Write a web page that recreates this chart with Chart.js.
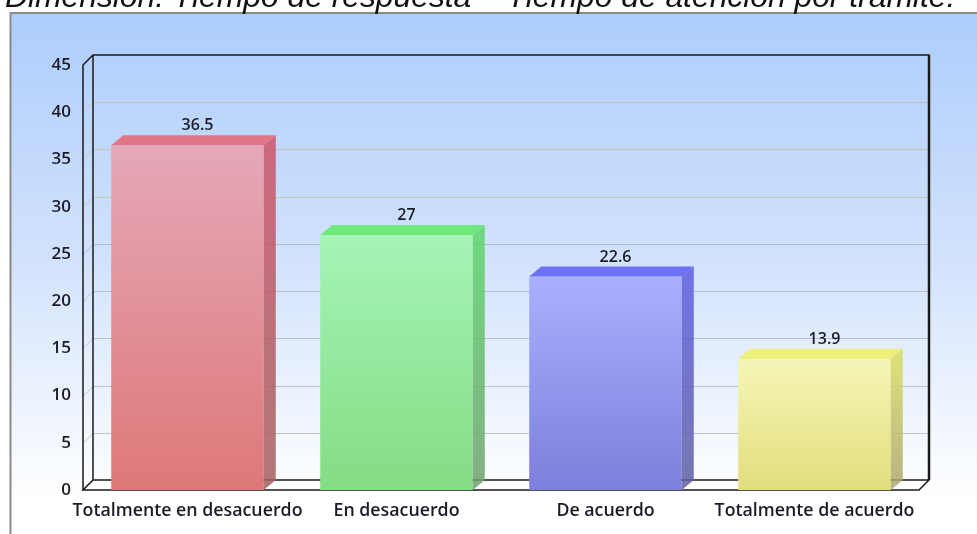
<!DOCTYPE html>
<html>
<head>
<meta charset="utf-8">
<script src="https://cdn.jsdelivr.net/npm/chart.js@4"></script>
<style>
  html, body { margin: 0; padding: 0; background: #fff; }
  canvas { display: block; }
</style>
</head>
<body>
<canvas id="chartcnv" width="977" height="534"></canvas>
<script>
// data
const titleText = 'Dimensión: Tiempo de respuesta – Tiempo de atención por trámite.';
const categories = ['Totalmente en desacuerdo', 'En desacuerdo', 'De acuerdo', 'Totalmente de acuerdo'];
const percentValues = [36.5, 27, 22.6, 13.9];
const yTicks = [0, 5, 10, 15, 20, 25, 30, 35, 40, 45];

// colours per bar: front (top/bottom), top face, side face
const frontTop = ['#e5a8b8', '#a6f4b6', '#aab0fd', '#f5f6b6'];
const frontBottom = ['#de7878', '#84dc84', '#7d7fdc', '#e2de7e'];
const topFace = ['#e07686', '#6fe87d', '#6c72f2', '#eeee7a'];
const sideTop = ['rgba(205,85,105,0.85)', 'rgba(95,215,105,0.85)', 'rgba(95,95,225,0.85)', 'rgba(220,220,100,0.85)'];
const sideBottom = ['rgba(165,95,95,0.85)', 'rgba(110,160,110,0.85)', 'rgba(95,95,160,0.85)', 'rgba(170,165,110,0.85)'];

const WALL = 10;      // depth of the walls
const BAR_DX = 12, BAR_DY = 10;
const labelFont = '"Open Sans", "DejaVu Sans", sans-serif';

const backdrop = {
  id: 'backdrop',
  beforeDraw(chart) {
    const ctx = chart.ctx;
    const w = chart.width, h = chart.height;
    ctx.save();
    ctx.fillStyle = '#ffffff';
    ctx.fillRect(0, 0, w, h);
    // panel with gradient
    const g = ctx.createLinearGradient(0, 14, 0, 500);
    g.addColorStop(0, '#adcdfc');
    g.addColorStop(0.5, '#d2e2fc');
    g.addColorStop(1, '#ffffff');
    ctx.fillStyle = g;
    ctx.fillRect(10, 14, w - 10, h - 14);
    ctx.strokeStyle = '#8a8a8a';
    ctx.lineWidth = 2;
    ctx.beginPath();
    ctx.moveTo(10.5, h);
    ctx.lineTo(10.5, 13);
    ctx.lineTo(w, 13);
    ctx.stroke();
    // title, cut by the top edge
    let size = 28;
    ctx.font = 'italic ' + size + 'px "Liberation Sans", Arial, sans-serif';
    const tw = ctx.measureText(titleText).width;
    size = size * 950 / tw;
    ctx.font = 'italic ' + size.toFixed(1) + 'px "Liberation Sans", Arial, sans-serif';
    ctx.fillStyle = '#111';
    ctx.textBaseline = 'alphabetic';
    ctx.textAlign = 'left';
    ctx.fillText(titleText, 5, 7);
    ctx.restore();
  },
  beforeDatasetsDraw(chart) {
    const ctx = chart.ctx;
    const a = chart.chartArea;
    const ys = chart.scales.y;
    ctx.save();
    // floor
    ctx.fillStyle = '#ffffff';
    ctx.beginPath();
    ctx.moveTo(a.left, a.bottom);
    ctx.lineTo(a.right, a.bottom);
    ctx.lineTo(a.right + WALL, a.bottom - WALL);
    ctx.lineTo(a.left + WALL, a.bottom - WALL);
    ctx.closePath();
    ctx.fill();
    // gridlines on back and side wall
    ctx.lineWidth = 1;
    yTicks.forEach(v => {
      if (v === 0 || v === 45) return;
      const y = Math.round(ys.getPixelForValue(v)) + 0.5;
      ctx.strokeStyle = v > 25 ? 'rgba(200,180,150,0.6)' : 'rgba(150,150,150,0.5)';
      ctx.beginPath();
      ctx.moveTo(a.left, y);
      ctx.lineTo(a.left + WALL, y - WALL);
      ctx.lineTo(a.right + WALL, y - WALL);
      ctx.stroke();
    });
    // frame
    ctx.strokeStyle = '#1a1a1a';
    ctx.lineWidth = 1.5;
    ctx.beginPath();
    ctx.moveTo(a.left, a.bottom);
    ctx.lineTo(a.left, a.top);
    ctx.lineTo(a.left + WALL, a.top - WALL);
    ctx.lineTo(a.right + WALL, a.top - WALL);
    ctx.lineTo(a.right + WALL, a.bottom - WALL);
    ctx.lineTo(a.right, a.bottom);
    ctx.lineTo(a.left, a.bottom);
    ctx.lineTo(a.left + WALL, a.bottom - WALL);
    ctx.lineTo(a.right + WALL, a.bottom - WALL);
    ctx.moveTo(a.left + WALL, a.bottom - WALL);
    ctx.lineTo(a.left + WALL, a.top - WALL);
    ctx.stroke();
    // heavier back-right edge
    ctx.lineWidth = 2.5;
    ctx.beginPath();
    ctx.moveTo(a.right + WALL, a.top - WALL);
    ctx.lineTo(a.right + WALL, a.bottom - WALL);
    ctx.stroke();
    ctx.restore();
  },
  afterDatasetsDraw(chart) {
    const ctx = chart.ctx;
    const meta = chart.getDatasetMeta(0);
    ctx.save();
    meta.data.forEach((bar, i) => {
      const p = bar.getProps(['x', 'y', 'base', 'width'], true);
      const l = p.x - p.width / 2, r = p.x + p.width / 2;
      const t = p.y, b = p.base;
      // side face
      const sg = ctx.createLinearGradient(0, t, 0, b);
      sg.addColorStop(0, sideTop[i]);
      sg.addColorStop(1, sideBottom[i]);
      ctx.fillStyle = sg;
      ctx.beginPath();
      ctx.moveTo(r, t);
      ctx.lineTo(r + BAR_DX, t - BAR_DY);
      ctx.lineTo(r + BAR_DX, b - BAR_DY);
      ctx.lineTo(r, b);
      ctx.closePath();
      ctx.fill();
      // top face
      ctx.fillStyle = topFace[i];
      ctx.beginPath();
      ctx.moveTo(l, t);
      ctx.lineTo(l + BAR_DX, t - BAR_DY);
      ctx.lineTo(r + BAR_DX, t - BAR_DY);
      ctx.lineTo(r, t);
      ctx.closePath();
      ctx.fill();
      // value label
      ctx.fillStyle = '#1c1c28';
      ctx.font = '600 16px ' + labelFont;
      ctx.textAlign = 'center';
      ctx.textBaseline = 'alphabetic';
      ctx.fillText(String(percentValues[i]), p.x + 10, t - BAR_DY - 5);
    });
    ctx.restore();
  }
};

function frontGradient(context) {
  const chart = context.chart;
  const i = context.dataIndex;
  const ys = chart.scales.y;
  if (!ys || !chart.chartArea) return frontBottom[i];
  const top = ys.getPixelForValue(percentValues[i]);
  const g = chart.ctx.createLinearGradient(0, top, 0, ys.getPixelForValue(0));
  g.addColorStop(0, frontTop[i]);
  g.addColorStop(1, frontBottom[i]);
  return g;
}

const ctx = document.getElementById('chartcnv').getContext('2d');
const chart = new Chart(ctx, {
  type: 'bar',
  data: {
    labels: categories,
    datasets: [{
      data: percentValues,
      backgroundColor: frontGradient,
      borderWidth: 0,
      barPercentage: 0.73,
      categoryPercentage: 1
    }]
  },
  options: {
    responsive: false,
    animation: false,
    devicePixelRatio: 1,
    layout: { padding: { top: 65, right: 58, left: 0, bottom: 0 } },
    plugins: {
      legend: { display: false },
      title: { display: false },
      tooltip: { enabled: false }
    },
    scales: {
      x: {
        grid: { display: false, drawTicks: false },
        border: { display: false },
        ticks: {
          color: '#1c1c28',
          font: { family: labelFont, size: 17.8, weight: '600' },
          padding: 10,
          maxRotation: 0,
          autoSkip: false
        },
        afterFit(scale) { scale.height = 44; }
      },
      y: {
        min: 0,
        max: 45,
        grid: { display: false, drawTicks: false },
        border: { display: false },
        ticks: {
          stepSize: 5,
          color: '#1c1c28',
          font: { family: labelFont, size: 17, weight: '600' },
          padding: 12
        },
        afterFit(scale) { scale.width = 83; }
      }
    }
  },
  plugins: [backdrop]
});
</script>
</body>
</html>
